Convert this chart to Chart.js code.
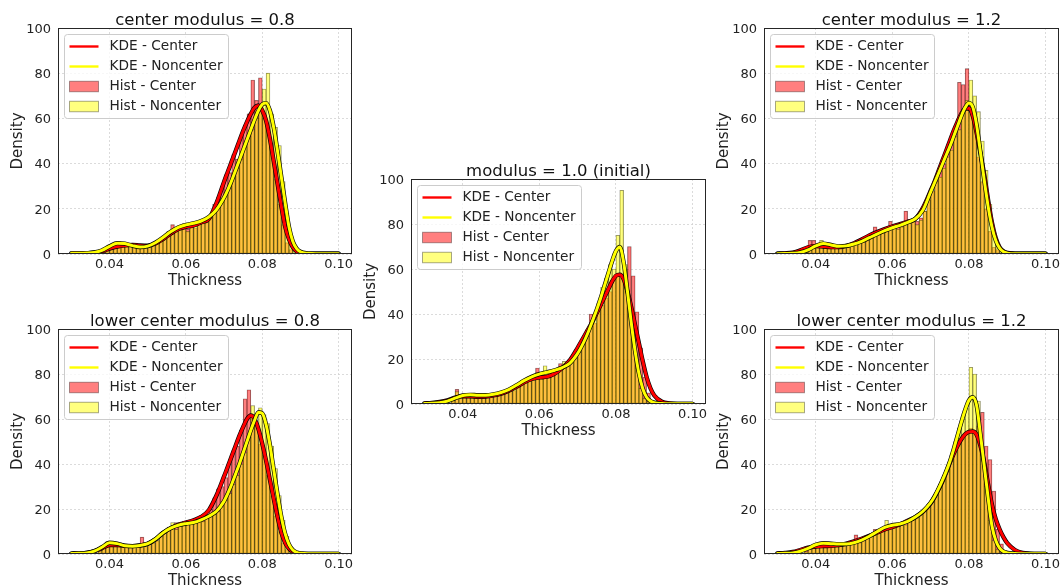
<!DOCTYPE html>
<html>
<head>
<meta charset="utf-8">
<script src="https://cdn.jsdelivr.net/npm/chart.js@4.4.1/dist/chart.umd.min.js"></script>
<style>
  html, body { margin: 0; padding: 0; background: #fff; overflow: hidden; }
  #wrap { position: relative; width: 1062px; height: 588px; }
  #wrap canvas { position: absolute; }
</style>
</head>
<body>
<div id="wrap"></div>
<script>
// histogram bin centres (bin width 0.001)
const binCenters = [0.0365, 0.0375, 0.0385, 0.0395, 0.0405, 0.0415, 0.0425, 0.0435, 0.0445, 0.0455, 0.0465,
  0.0475, 0.0485, 0.0495, 0.0505, 0.0515, 0.0525, 0.0535, 0.0545, 0.0555, 0.0565,
  0.0575, 0.0585, 0.0595, 0.0605, 0.0615, 0.0625, 0.0635, 0.0645, 0.0655, 0.0665,
  0.0675, 0.0685, 0.0695, 0.0705, 0.0715, 0.0725, 0.0735, 0.0745, 0.0755, 0.0765,
  0.0775, 0.0785, 0.0795, 0.0805, 0.0815, 0.0825, 0.0835, 0.0845, 0.0855, 0.0865,
  0.0875, 0.0885, 0.0895, 0.0905];

// points where the KDE curves were read
const kdeX = [0.030, 0.032, 0.034, 0.036, 0.038, 0.040, 0.042, 0.044, 0.046, 0.048, 0.050, 0.052, 0.054, 0.056, 0.058, 0.060, 0.062, 0.064, 0.066, 0.068, 0.070,
  0.071, 0.072, 0.073, 0.074, 0.075, 0.076, 0.077, 0.078, 0.079, 0.080, 0.081, 0.082, 0.083, 0.084, 0.085, 0.086, 0.087, 0.088, 0.089, 0.090,
  0.092, 0.094, 0.096, 0.098, 0.100];

const xTicks = [0.04, 0.06, 0.08, 0.10];
const yTicks = [0, 20, 40, 60, 80, 100];

const titles = ['center modulus = 0.8', 'modulus = 1.0 (initial)', 'center modulus = 1.2',
  'lower center modulus = 0.8', 'lower center modulus = 1.2'];
const legendLabels = ['KDE - Center', 'KDE - Noncenter', 'Hist - Center', 'Hist - Noncenter'];

// center modulus = 0.8
const hist08C = [0, 0.5, 1.2, 2.5, 3, 3.5, 2.8, 4, 4.5, 4.5, 3.5, 4, 3, 4, 3.5, 4.5, 5, 6, 8, 9.5, 13,
  10, 11.5, 12, 11, 12.5, 11.5, 14, 13.5, 15, 17, 22, 25, 30, 35, 36, 44, 42, 52, 57, 62,
  77, 68, 78, 60, 55, 45, 33, 22, 13, 5, 2, 0.5, 0, 0];
const hist08N = [0, 0.3, 1, 2.5, 4, 5, 5.5, 4.5, 4, 3.5, 3, 2.5, 3, 3, 3.5, 4, 5.5, 6, 8, 10, 9.5,
  11.5, 12, 13.5, 10, 14, 13, 13.5, 15, 15.5, 17, 19, 21, 24, 27, 31, 35, 38, 42, 47, 52,
  55, 60, 66, 73, 80, 62, 56, 48, 32, 18, 8, 3.5, 1, 0.3];
const kde08C = [0.3, 0.3, 0.4, 0.6, 1.2, 2.4, 3.3, 3.8, 4.0, 3.8, 3.7, 4.6, 6.6, 9.0, 11.0, 12.0, 12.6, 14.0, 15.5, 22.5, 32.0,
  36.5, 41.0, 45.5, 50.0, 54.5, 58.5, 62.0, 64.8, 65.7, 63.5, 59.0, 51.0, 41.0, 31.0, 21.0, 12.0, 6.5, 3.0, 1.2, 0.5,
  0.2, 0.1, 0.1, 0.1, 0.1];
const kde08N = [0.3, 0.3, 0.4, 0.7, 1.6, 3.4, 4.8, 4.6, 3.7, 3.1, 3.5, 5.0, 7.3, 9.8, 11.8, 12.9, 13.6, 14.6, 16.4, 19.6, 25.0,
  28.5, 32.5, 37.0, 41.5, 46.0, 50.5, 55.0, 59.5, 63.5, 66.2, 66.8, 63.5, 56.0, 45.5, 34.0, 22.5, 12.0, 5.5, 2.4, 1.0,
  0.3, 0.1, 0.1, 0.1, 0.1];

// modulus = 1.0 (initial)
const hist10C = [0.5, 1.5, 6.5, 3.5, 3, 3.5, 3, 3, 3.5, 3, 3.5, 3, 4, 4.5, 4, 5, 6.5, 6, 8, 9, 9.5,
  11, 12, 16, 12, 11.5, 12.5, 13, 14, 18, 16, 18, 19.5, 23, 26, 29, 33, 40, 36, 42, 44,
  47, 50, 55, 57, 56, 60, 70, 57, 41, 25, 12, 5, 1.5, 0.5];
const hist10N = [0.3, 1.5, 5.5, 4, 3.5, 4, 4, 3.5, 4, 3.5, 3.5, 4, 4.5, 5, 4.5, 6, 6.5, 7, 9, 10, 10,
  12, 11.5, 14, 13, 17, 14, 14.5, 15, 16, 19, 17, 19, 21, 24, 27, 30, 35, 38, 45, 52,
  56, 62, 60, 75, 95, 62, 45, 30, 16, 7, 2.5, 1, 0.3, 0];
const kde10C = [0.3, 0.5, 0.9, 1.6, 2.8, 3.4, 3.4, 3.2, 3.3, 3.8, 4.6, 5.9, 7.6, 9.6, 11.1, 11.8, 12.1, 13.5, 16.0, 19.5, 25.0,
  28.0, 31.0, 34.0, 37.0, 40.5, 44.0, 47.5, 51.0, 54.5, 57.0, 57.5, 55.5, 50.0, 43.0, 35.0, 27.0, 19.0, 12.0, 7.0, 3.8,
  1.0, 0.3, 0.1, 0.1, 0.1];
const kde10N = [0.2, 0.3, 0.6, 1.3, 2.6, 3.8, 4.1, 3.9, 3.9, 4.3, 5.1, 6.4, 8.3, 10.4, 12.1, 13.3, 14.1, 15.0, 16.2, 18.2, 22.5,
  25.5, 29.0, 33.0, 37.5, 42.0, 47.0, 52.5, 58.0, 63.5, 68.0, 69.8, 63.0, 50.0, 36.0, 23.5, 13.5, 6.8, 3.0, 1.3, 0.6,
  0.2, 0.1, 0.1, 0.1, 0.1];

// center modulus = 1.2
const hist12C = [0.5, 3, 6, 6, 3, 2.5, 3, 3.5, 3, 3, 2.5, 3.5, 3, 4.5, 5, 5.5, 6.5, 8, 8.5, 12, 9,
  10.5, 11, 14.5, 11.5, 12, 13, 19, 14, 15, 14.5, 16, 19, 24, 28, 33, 37, 40, 46, 50, 56,
  76, 75, 82, 62, 56, 43, 32, 20, 10, 3, 2, 0.5, 0, 0];
const hist12N = [0.2, 1, 2.5, 3, 4, 6, 5, 4.5, 3.5, 3, 3.5, 3, 3.5, 4, 4.5, 5, 6, 7, 8, 9, 8.5,
  10, 10.5, 11, 12.5, 11, 12, 13, 14, 14.5, 13, 15, 19, 26, 28, 32, 34, 38, 43, 46, 52,
  55, 64, 68, 77, 70, 63, 50, 37, 22, 10, 4, 1.5, 0.5, 0];
const kde12C = [0.2, 0.3, 0.6, 1.6, 3.0, 3.5, 3.3, 3.0, 3.0, 3.6, 4.8, 6.4, 8.2, 9.7, 11.0, 12.2, 13.2, 14.3, 15.6, 20.5, 28.0,
  32.0, 36.5, 41.0, 45.5, 50.0, 54.5, 58.5, 62.0, 64.3, 64.5, 61.0, 53.5, 44.5, 35.0, 24.0, 14.0, 7.0, 3.0, 1.2, 0.5,
  0.2, 0.1, 0.1, 0.1, 0.1];
const kde12N = [0.1, 0.2, 0.3, 0.7, 1.8, 3.6, 4.6, 4.0, 3.4, 3.6, 4.4, 5.6, 7.2, 8.8, 10.3, 11.6, 12.7, 14.0, 15.6, 19.5, 27.5,
  31.5, 35.5, 39.5, 43.5, 47.5, 52.0, 56.5, 61.0, 64.8, 66.8, 65.0, 57.0, 45.0, 32.5, 21.0, 12.0, 6.0, 2.6, 1.0, 0.4,
  0.1, 0.1, 0.1, 0.1, 0.1];

// lower center modulus = 0.8
const histL08C = [0.3, 1.5, 3, 4.5, 5, 4.5, 3.5, 4, 4, 3, 3.5, 3.5, 7.5, 4, 4.5, 5, 6, 8, 10, 12, 11,
  14, 13, 14.5, 15, 14.5, 15.5, 15, 17, 17.5, 20, 25, 29, 30, 34, 41, 46, 48, 55, 69, 73,
  62, 58, 49, 44, 35, 26, 17, 10, 5, 2, 0.5, 0, 0, 0];
const histL08N = [0.3, 1.5, 3.5, 5.5, 5, 4.5, 4, 3.5, 3.5, 3, 3.5, 4, 4.5, 4, 4.5, 5, 6, 8, 10, 11, 14,
  11, 14, 13, 14, 13.5, 14, 15, 14.5, 16.5, 17, 18, 19, 21, 24, 27, 31, 35, 40, 45, 52,
  66, 58, 65, 62, 58, 48, 38, 26, 15, 8, 3, 1, 0.3, 0];
const kdeL08C = [0.2, 0.3, 0.5, 1.2, 2.6, 4.0, 4.0, 3.6, 3.5, 3.8, 4.6, 6.5, 9.3, 11.5, 13.0, 14.0, 15.0, 16.5, 19.5, 26.0, 34.5,
  39.0, 43.5, 48.0, 52.5, 56.5, 60.0, 61.6, 60.0, 55.5, 49.0, 41.5, 33.0, 24.5, 16.5, 9.5, 5.0, 2.4, 1.0, 0.4, 0.2,
  0.1, 0.1, 0.1, 0.1, 0.1];
const kdeL08N = [0.2, 0.3, 0.5, 1.3, 3.0, 5.0, 4.6, 3.7, 3.5, 3.8, 4.6, 6.6, 9.4, 11.5, 12.8, 13.5, 14.0, 15.2, 16.8, 19.0, 23.5,
  27.0, 31.0, 35.5, 40.0, 45.0, 50.0, 55.0, 59.5, 63.0, 62.5, 57.5, 48.5, 37.5, 26.5, 16.5, 9.0, 4.3, 1.8, 0.7, 0.3,
  0.1, 0.1, 0.1, 0.1, 0.1];

// lower center modulus = 1.2
const histL12C = [0.5, 1.5, 2.5, 3, 3.5, 3, 3.5, 4, 3.5, 3.5, 4, 4.5, 4, 5, 8.5, 6, 6.5, 7.5, 8, 11, 9.5,
  11, 11.5, 12, 11.5, 13, 13.5, 14, 15, 15.5, 16, 18, 20, 22, 24, 27, 29.5, 35, 38, 42, 47,
  50, 52, 54, 56, 55, 57, 63, 48, 42, 28, 11, 4.5, 1.5, 0.5];
const histL12N = [0.3, 1, 2.5, 3.5, 4, 5, 4.5, 4.5, 4.5, 4, 4.5, 4.5, 4, 4.5, 5, 5, 6, 7, 8, 9, 9.5,
  11, 15, 12, 12.5, 13, 13.5, 13, 14.5, 16, 17, 18, 19.5, 21, 24, 27, 31, 34, 38, 44, 50,
  56, 60, 65, 83, 80, 68, 45, 30, 15, 6, 2, 0.5, 0, 0];
const kdeL12C = [0.3, 0.5, 0.9, 1.8, 2.8, 3.3, 3.5, 3.6, 3.9, 4.6, 5.6, 6.8, 8.1, 9.5, 10.9, 12.0, 13.2, 14.8, 16.4, 18.8, 22.6,
  25.3, 28.5, 32.0, 36.0, 40.5, 44.5, 48.0, 51.0, 53.2, 54.3, 54.5, 53.0, 48.0, 40.5, 31.0, 22.0, 15.5, 11.0, 7.5, 4.8,
  1.8, 0.5, 0.2, 0.1, 0.1];
const kdeL12N = [0.2, 0.3, 0.5, 1.2, 2.5, 4.1, 4.8, 4.6, 4.4, 4.4, 5.0, 6.2, 7.9, 9.9, 11.8, 12.8, 13.3, 14.5, 16.4, 19.0, 22.8,
  25.5, 28.8, 32.5, 36.5, 41.0, 46.5, 52.5, 58.5, 64.0, 68.3, 69.7, 66.0, 53.0, 39.0, 25.0, 12.5, 6.0, 2.6, 1.1, 0.5,
  0.2, 0.1, 0.1, 0.1, 0.1];

const Y_AXIS_W = 58;   // room for "Density" + tick labels
const TITLE_H = 28;
const X_AXIS_H = 40;
const RIGHT_PAD = 24;

const panels = [
  { title: titles[0], kdeC: kde08C, kdeN: kde08N, histC: hist08C, histN: hist08N, left: 58, top: 28, w: 294, h: 226 },
  { title: titles[1], kdeC: kde10C, kdeN: kde10N, histC: hist10C, histN: hist10N, left: 411, top: 179, w: 295, h: 225 },
  { title: titles[2], kdeC: kde12C, kdeN: kde12N, histC: hist12C, histN: hist12N, left: 764, top: 28, w: 295, h: 226 },
  { title: titles[3], kdeC: kdeL08C, kdeN: kdeL08N, histC: histL08C, histN: histL08N, left: 58, top: 329, w: 294, h: 225 },
  { title: titles[4], kdeC: kdeL12C, kdeN: kdeL12N, histC: histL12C, histN: histL12N, left: 764, top: 329, w: 295, h: 225 }
];

Chart.defaults.font.family = "'DejaVu Sans', sans-serif";
Chart.defaults.color = '#222';

const RED = '#ff0000';
const YELLOW = '#ffff00';
const RED_FILL = 'rgba(255, 0, 0, 0.5)';
const YELLOW_FILL = 'rgba(255, 255, 0, 0.5)';
const EDGE = 'rgba(0, 0, 0, 0.5)';

// spines + matplotlib style legend box
const frameAndLegend = {
  id: 'frameAndLegend',
  afterDraw(chart) {
    const { ctx, chartArea: a } = chart;
    ctx.save();
    ctx.strokeStyle = '#262626';
    ctx.lineWidth = 1;
    ctx.strokeRect(a.left + 0.5, a.top + 0.5, a.right - a.left - 1, a.bottom - a.top - 1);

    const bx = a.left + 6.5, by = a.top + 6.5;
    ctx.beginPath();
    ctx.roundRect(bx, by, 164, 84, 3);
    ctx.fillStyle = 'rgba(255, 255, 255, 0.8)';
    ctx.fill();
    ctx.strokeStyle = '#cccccc';
    ctx.stroke();

    const handles = [
      { kind: 'line', color: RED },
      { kind: 'line', color: YELLOW },
      { kind: 'patch', color: RED_FILL },
      { kind: 'patch', color: YELLOW_FILL }
    ];
    ctx.font = "13.7px 'DejaVu Sans'";
    ctx.textBaseline = 'middle';
    legendLabels.forEach((label, i) => {
      const y = a.top + 18.5 + i * 20;
      const hx = a.left + 11.5;
      const h = handles[i];
      if (h.kind === 'line') {
        ctx.beginPath();
        ctx.moveTo(hx, y);
        ctx.lineTo(hx + 29, y);
        ctx.strokeStyle = h.color;
        ctx.lineWidth = 2.4;
        ctx.stroke();
      } else {
        ctx.fillStyle = h.color;
        ctx.fillRect(hx, y - 5.25, 29, 10.5);
        ctx.strokeStyle = 'rgba(0, 0, 0, 0.35)';
        ctx.lineWidth = 1;
        ctx.strokeRect(hx, y - 5.25, 29, 10.5);
      }
      ctx.fillStyle = '#222';
      ctx.fillText(label, a.left + 51.5, y);
    });
    ctx.restore();
  }
};

function pts(xs, ys) {
  return xs.map((x, i) => ({ x: x, y: ys[i] }));
}

function kdeLine(data, color, width, order) {
  return {
    type: 'line', data: data, borderColor: color, borderWidth: width, order: order,
    pointRadius: 0, fill: false, cubicInterpolationMode: 'monotone',
    borderJoinStyle: 'round', borderCapStyle: 'round'
  };
}

function histBars(data, fill, order) {
  return {
    type: 'bar', data: data, backgroundColor: fill, borderColor: EDGE, borderWidth: 0.5,
    borderSkipped: false, barPercentage: 1, categoryPercentage: 1, grouped: false, order: order
  };
}

function makePanel(p) {
  const canvas = document.createElement('canvas');
  const cw = Y_AXIS_W + p.w + RIGHT_PAD;
  const ch = TITLE_H + p.h + X_AXIS_H;
  canvas.width = cw;
  canvas.height = ch;
  canvas.style.width = cw + 'px';
  canvas.style.height = ch + 'px';
  canvas.style.left = (p.left - Y_AXIS_W) + 'px';
  canvas.style.top = (p.top - TITLE_H) + 'px';
  document.getElementById('wrap').appendChild(canvas);

  const gridOpts = { color: '#d2d2d2', lineWidth: 0.8, drawTicks: false, offset: false };
  const borderOpts = { display: false, dash: [2, 2] };

  new Chart(canvas, {
    type: 'bar',
    data: {
      datasets: [
        kdeLine(pts(kdeX, p.kdeN), YELLOW, 3.0, 0),
        kdeLine(pts(kdeX, p.kdeN), '#000', 4.3, 1),
        kdeLine(pts(kdeX, p.kdeC), RED, 3.0, 2),
        kdeLine(pts(kdeX, p.kdeC), '#000', 4.3, 3),
        histBars(pts(binCenters, p.histN), YELLOW_FILL, 4),
        histBars(pts(binCenters, p.histC), RED_FILL, 5)
      ]
    },
    options: {
      responsive: false,
      animation: false,
      events: [],
      layout: { padding: { right: RIGHT_PAD } },
      plugins: {
        legend: { display: false },
        tooltip: { enabled: false },
        title: {
          display: true, text: p.title, fullSize: false, color: '#111',
          font: { size: 16.5, weight: 'normal', lineHeight: '15px' },
          padding: { top: 13, bottom: 0 }
        }
      },
      scales: {
        x: {
          type: 'linear', min: 0.0265, max: 0.1035, offset: false,
          afterFit: s => { s.height = X_AXIS_H; },
          afterBuildTicks: s => { s.ticks = xTicks.map(v => ({ value: v })); },
          grid: gridOpts,
          border: borderOpts,
          ticks: {
            callback: v => v.toFixed(2), autoSkip: false, maxRotation: 0,
            font: { size: 13, lineHeight: '13px' }, color: '#222', padding: 4
          },
          title: {
            display: true, text: 'Thickness', color: '#222',
            font: { size: 15, lineHeight: '15px' }, padding: { top: 0, bottom: 5 }
          }
        },
        y: {
          min: 0, max: 100,
          afterFit: s => { s.width = Y_AXIS_W; },
          afterBuildTicks: s => { s.ticks = yTicks.map(v => ({ value: v })); },
          grid: gridOpts,
          border: borderOpts,
          ticks: { font: { size: 13, lineHeight: '13px' }, color: '#222', padding: 7, labelOffset: 1.5 },
          title: {
            display: true, text: 'Density', color: '#222',
            font: { size: 15, lineHeight: '15px' }, padding: { top: 11, bottom: 0 }
          }
        }
      }
    },
    plugins: [frameAndLegend]
  });
}

panels.forEach(makePanel);
</script>
</body>
</html>
